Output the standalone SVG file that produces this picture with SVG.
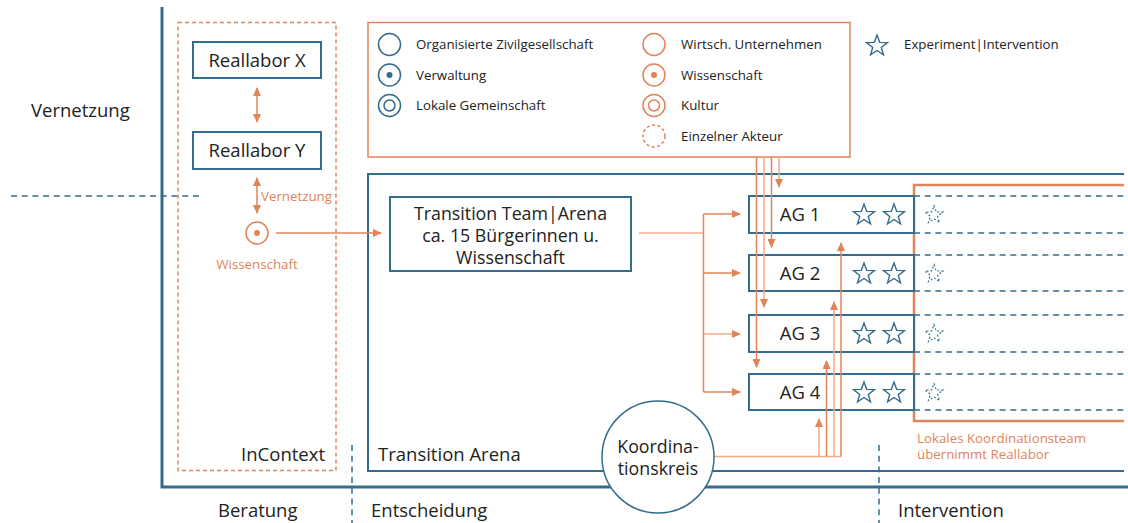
<svg xmlns="http://www.w3.org/2000/svg" width="1128" height="523" viewBox="0 0 1128 523">
<style>
text{font-family:"Open Sans","Noto Sans","Liberation Sans",sans-serif;fill:#222}
.big{font-size:18.5px}
.ml{font-size:17.8px}
.sm{font-size:13.3px}
.or{fill:#e0845a}
.bl{stroke:#346c8e;fill:none}
.box{stroke:#346c8e;stroke-width:2;fill:#fff}
.ol{stroke:#e0845a;fill:none;stroke-width:1.5}
.ll{stroke:#f0ad8d;fill:none;stroke-width:1.5}
.dash{stroke:#346c8e;stroke-width:1.5;stroke-dasharray:6 4.7;fill:none}
.star{fill:none;stroke:#346c8e;stroke-width:1.4}
</style>
<defs>
<marker id="ah" markerUnits="userSpaceOnUse" markerWidth="9" markerHeight="8" refX="8" refY="4" orient="auto-start-reverse"><path d="M0,0 L9,4 L0,8 z" fill="#e0845a"/></marker>
<path id="st" d="M0,-11 L2.65,-3.64 L10.46,-3.4 L4.28,1.39 L6.47,8.9 L0,4.5 L-6.47,8.9 L-4.28,1.39 L-10.46,-3.4 L-2.65,-3.64 Z"/>
</defs>

<g id="axes">
<path d="M162,7 V487 H1128" fill="none" stroke="#346c8e" stroke-width="3"/>
<path d="M11,196 H200" class="dash"/>
<path d="M352,445 V523" class="dash"/>
<path d="M879,445 V523" class="dash"/>
<text class="big" x="31" y="116.5">Vernetzung</text>
<text class="big" x="218" y="517">Beratung</text>
<text class="big" x="371" y="517">Entscheidung</text>
<text class="big" x="898" y="517">Intervention</text>
</g>

<g id="incontext">
<rect x="178" y="22.5" width="158" height="448" fill="none" stroke="#e0845a" stroke-width="1.5" stroke-dasharray="4 3"/>
<text class="big" x="325" y="461" text-anchor="end">InContext</text>
</g>

<g id="transition-arena">
<path d="M1124,174 H368 V471 H1124" fill="none" stroke="#346c8e" stroke-width="2"/>
<text class="big" x="378" y="461">Transition Arena</text>
</g>

<g id="lokales-team">
<path d="M1124,185 H914 V421 H1124" fill="none" stroke="#e0845a" stroke-width="2.5"/>
<text class="sm or" x="917" y="443">Lokales Koordinationsteam</text>
<text class="sm or" x="917" y="459">übernimmt Reallabor</text>
</g>

<g id="legend">
<rect x="368" y="22.5" width="482" height="134.5" fill="none" stroke="#e0845a" stroke-width="1.5"/>
<circle cx="389.5" cy="44.5" r="11" class="bl" stroke-width="1.5"/>
<circle cx="389.5" cy="75" r="11" class="bl" stroke-width="1.5"/>
<circle cx="389.5" cy="75" r="3" fill="#346c8e"/>
<circle cx="389.5" cy="105.5" r="11" class="bl" stroke-width="1.5"/>
<circle cx="389.5" cy="105.5" r="5.5" class="bl" stroke-width="1.5"/>
<text class="sm" x="416" y="49">Organisierte Zivilgesellschaft</text>
<text class="sm" x="416" y="79.5">Verwaltung</text>
<text class="sm" x="416" y="110">Lokale Gemeinschaft</text>
<circle cx="654" cy="44.5" r="11" class="ol"/>
<circle cx="654" cy="75" r="11" class="ol"/>
<circle cx="654" cy="75" r="3" fill="#e0845a"/>
<circle cx="654" cy="105.5" r="11" class="ol"/>
<circle cx="654" cy="105.5" r="5.5" class="ol"/>
<circle cx="654" cy="136" r="11" class="ol" stroke-dasharray="3 2.5"/>
<text class="sm" x="681" y="49">Wirtsch. Unternehmen</text>
<text class="sm" x="681" y="79.5">Wissenschaft</text>
<text class="sm" x="681" y="110">Kultur</text>
<text class="sm" x="681" y="140.5">Einzelner Akteur</text>
<use href="#st" x="877" y="46" class="star"/>
<text class="sm" x="904" y="49">Experiment|Intervention</text>
</g>

<g id="reallabor-x">
<rect x="193" y="42" width="128" height="36" class="box"/>
<text class="big" x="257" y="66.5" text-anchor="middle">Reallabor X</text>
</g>
<g id="reallabor-y">
<rect x="193" y="132" width="128" height="37" class="box"/>
<text class="big" x="257" y="157" text-anchor="middle">Reallabor Y</text>
</g>
<g id="wissenschaft">
<circle cx="257" cy="233" r="11" class="ol"/>
<circle cx="257" cy="233" r="3" fill="#e0845a"/>
<text class="sm or" x="257" y="269" text-anchor="middle">Wissenschaft</text>
</g>

<g id="transition-team">
<rect x="390" y="197" width="241" height="74" class="box"/>
<text class="ml" x="510.5" y="219.5" text-anchor="middle">Transition Team|Arena</text>
<text class="ml" x="510.5" y="241.5" text-anchor="middle">ca. 15 Bürgerinnen u.</text>
<text class="ml" x="510.5" y="263.5" text-anchor="middle">Wissenschaft</text>
</g>

<g id="ag-rows">
<path d="M914,196 H1124 M914,233 H1124 M914,255 H1124 M914,291 H1124 M914,315 H1124 M914,352 H1124 M914,374 H1124 M914,410 H1124" class="dash"/>
</g>
<g id="ag1">
<rect x="749" y="196" width="165" height="37" class="box"/>
<text class="big" x="800" y="221" text-anchor="middle">AG 1</text>
<use href="#st" x="864" y="215" class="star"/><use href="#st" x="894" y="215" class="star"/>
<use href="#st" transform="translate(934,215) scale(0.85)" class="star" stroke-dasharray="2.2 2.4"/>
</g>
<g id="ag2">
<rect x="749" y="255" width="165" height="36" class="box"/>
<text class="big" x="800" y="280" text-anchor="middle">AG 2</text>
<use href="#st" x="864" y="274" class="star"/><use href="#st" x="894" y="274" class="star"/>
<use href="#st" transform="translate(934,274) scale(0.85)" class="star" stroke-dasharray="2.2 2.4"/>
</g>
<g id="ag3">
<rect x="749" y="315" width="165" height="37" class="box"/>
<text class="big" x="800" y="340" text-anchor="middle">AG 3</text>
<use href="#st" x="864" y="334" class="star"/><use href="#st" x="894" y="334" class="star"/>
<use href="#st" transform="translate(934,334) scale(0.85)" class="star" stroke-dasharray="2.2 2.4"/>
</g>
<g id="ag4">
<rect x="749" y="374" width="165" height="36" class="box"/>
<text class="big" x="800" y="399" text-anchor="middle">AG 4</text>
<use href="#st" x="864" y="393" class="star"/><use href="#st" x="894" y="393" class="star"/>
<use href="#st" transform="translate(934,393) scale(0.85)" class="star" stroke-dasharray="2.2 2.4"/>
</g>

<g id="connectors">
<path d="M257,88 V122" class="ol" marker-start="url(#ah)" marker-end="url(#ah)"/>
<path d="M257,178 V213" class="ol" marker-start="url(#ah)" marker-end="url(#ah)"/>
<text class="sm or" x="261" y="201">Vernetzung</text>
<path d="M276,233 H381" class="ol" marker-end="url(#ah)"/>
<path d="M639,233 H703.5" class="ll"/>
<path d="M703.5,214 V392" class="ol"/>
<path d="M703.5,214 H740" class="ol" marker-end="url(#ah)"/>
<path d="M703.5,273 H740" class="ol" marker-end="url(#ah)"/>
<path d="M703.5,334 H740" class="ll" marker-end="url(#ah)"/>
<path d="M703.5,392 H740" class="ol" marker-end="url(#ah)"/>
<path d="M756.5,157 V367" class="ol" marker-end="url(#ah)"/>
<path d="M764,157 V307" class="ll" marker-end="url(#ah)"/>
<path d="M771.5,157 V247" class="ol" marker-end="url(#ah)"/>
<path d="M779,157 V187" class="ll" marker-end="url(#ah)"/>
<path d="M714,456.5 H841" class="ll"/>
<path d="M819,456.5 V419" class="ll" marker-end="url(#ah)"/>
<path d="M826.5,456.5 V361" class="ol" marker-end="url(#ah)"/>
<path d="M834,456.5 V302" class="ll" marker-end="url(#ah)"/>
<path d="M841,456.5 V243" class="ol" marker-end="url(#ah)"/>
</g>

<g id="koordinationskreis">
<circle cx="658" cy="457" r="56" fill="#fff" stroke="#346c8e" stroke-width="1.5"/>
<text class="ml" x="658" y="452.5" text-anchor="middle">Koordina-</text>
<text class="ml" x="658" y="475" text-anchor="middle">tionskreis</text>
</g>
</svg>
